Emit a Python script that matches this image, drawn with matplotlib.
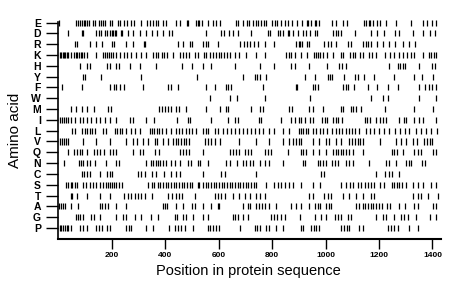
import matplotlib
matplotlib.use("Agg")
import matplotlib.pyplot as plt

plt.rcParams['font.family'] = ['Liberation Sans', 'DejaVu Sans']

# rows from top to bottom
amino_acids = ["E", "D", "R", "K", "H", "Y", "F", "W", "M", "I",
               "L", "V", "Q", "N", "C", "S", "T", "A", "G", "P"]

# positions of each residue in the sequence
pos_E = [2, 65, 73, 81, 88, 95, 99, 106, 114, 129, 136, 152, 159, 166, 174, 193, 200, 222, 230, 245,
         256, 271, 282, 309, 331, 343, 353, 364, 375, 391, 405, 439, 454, 480, 487, 514, 521, 528, 537,
         559, 578, 592, 607, 664, 674, 690, 705, 715, 727, 738, 746, 757, 768, 779, 798, 810, 820, 835,
         847, 858, 876, 892, 913, 929, 936, 944, 959, 966, 977, 1026, 1041, 1067, 1079, 1145, 1153,
         1161, 1168, 1179, 1191, 1205, 1227, 1265, 1321, 1366, 1380, 1400, 1414]
pos_D = [37, 87, 93, 142, 151, 161, 174, 182, 193, 200, 205, 211, 217, 233, 240, 261, 280, 305, 329,
         349, 369, 392, 416, 425, 554, 609, 619, 638, 654, 672, 722, 784, 793, 822, 830, 840, 859, 865,
         879, 896, 915, 928, 942, 960, 968, 1027, 1038, 1047, 1059, 1111, 1170, 1192, 1220, 1261, 1276,
         1326, 1366, 1389, 1410]
pos_R = [63, 71, 120, 142, 165, 200, 207, 252, 280, 320, 324, 448, 467, 492, 499, 542, 551, 561, 597,
         680, 694, 706, 718, 731, 747, 772, 806, 890, 900, 905, 912, 930, 940, 995, 1008, 1021, 1038,
         1083, 1096, 1139, 1150, 1158, 1170, 1192, 1214, 1237, 1261, 1289, 1311, 1336]
pos_K = [6, 11, 16, 20, 26, 34, 38, 49, 58, 65, 72, 78, 84, 90, 98, 108, 142, 168, 175, 182, 190, 198,
         205, 217, 230, 245, 259, 274, 292, 311, 329, 355, 364, 373, 387, 397, 407, 429, 457, 467, 477,
         489, 510, 522, 544, 554, 567, 579, 591, 601, 610, 621, 631, 642, 661, 676, 703, 741, 772, 853,
         863, 872, 885, 909, 930, 957, 965, 972, 980, 990, 1005, 1027, 1058, 1067, 1092, 1102, 1111,
         1129, 1139, 1162, 1175, 1187, 1223, 1241, 1257, 1274, 1289, 1303, 1319, 1332, 1366, 1386,
         1396, 1406, 1415]
pos_H = [81, 108, 118, 182, 193, 217, 228, 268, 305, 364, 464, 502, 542, 573, 660, 753, 806, 871, 884,
         940, 1005, 1050, 1062, 1077, 1237, 1270, 1279, 1289, 1298, 1349, 1398, 1410]
pos_Y = [93, 99, 161, 311, 520, 691, 735, 743, 753, 778, 922, 959, 1009, 1017, 1024, 1070, 1111, 1120,
         1145, 1183, 1257, 1332, 1361, 1401]
pos_F = [13, 90, 193, 207, 217, 230, 245, 317, 411, 420, 448, 554, 585, 626, 636, 645, 766, 888, 895,
         952, 962, 972, 1064, 1075, 1085, 1108, 1158, 1192, 1233, 1270, 1351, 1373, 1386, 1398, 1413]
pos_W = [566, 643, 668, 772, 942, 1170, 1214, 1233, 1349, 1413]
pos_M = [46, 65, 88, 108, 134, 188, 198, 377, 387, 398, 410, 422, 442, 451, 477, 554, 606, 626, 636,
         722, 753, 766, 865, 875, 940, 952, 990, 1058, 1067, 1096, 1104, 1115, 1133, 1223, 1332, 1401]
pos_I = [6, 13, 20, 29, 37, 49, 61, 81, 93, 108, 124, 140, 155, 174, 193, 217, 270, 280, 329, 357, 444,
         485, 493, 573, 635, 660, 672, 750, 760, 834, 871, 884, 900, 909, 922, 942, 952, 988, 998, 1007,
         1027, 1038, 1047, 1062, 1146, 1157, 1167, 1187, 1202, 1214, 1226, 1276, 1292, 1302, 1332,
         1351, 1366, 1413]
pos_L = [53, 63, 87, 99, 108, 118, 128, 136, 168, 177, 211, 219, 230, 240, 252, 274, 286, 305, 342,
         350, 358, 368, 377, 387, 405, 422, 439, 451, 464, 477, 489, 501, 514, 542, 551, 561, 585, 596,
         616, 631, 645, 661, 676, 691, 706, 720, 736, 751, 766, 790, 806, 841, 865, 900, 909, 917, 927,
         936, 952, 964, 980, 992, 1005, 1024, 1038, 1050, 1062, 1075, 1087, 1099, 1111, 1127, 1152,
         1167, 1183, 1199, 1220, 1239, 1261, 1279, 1298, 1314, 1339, 1357, 1376, 1395, 1416]
pos_V = [6, 13, 20, 29, 37, 93, 142, 193, 254, 280, 295, 317, 336, 361, 369, 392, 410, 428, 439, 449,
         459, 469, 479, 489, 548, 560, 573, 585, 606, 678, 738, 788, 840, 865, 877, 890, 902, 909, 952,
         977, 1003, 1012, 1038, 1058, 1089, 1099, 1110, 1120, 1129, 1139, 1202, 1264, 1282, 1302, 1326,
         1341, 1369, 1380, 1390, 1399]
pos_Q = [37, 58, 71, 81, 90, 108, 134, 145, 158, 170, 193, 205, 217, 280, 305, 317, 361, 377, 454, 467,
         479, 491, 542, 641, 654, 666, 678, 697, 709, 722, 772, 784, 797, 859, 909, 917, 927, 952, 977,
         1003, 1027, 1038, 1047, 1057, 1067, 1077, 1087, 1102, 1139, 1249, 1258, 1268, 1289, 1332,
         1345, 1357, 1401, 1413]
pos_N = [20, 78, 85, 93, 108, 118, 136, 177, 217, 228, 329, 346, 355, 364, 373, 382, 391, 403, 422,
         435, 454, 485, 497, 522, 532, 560, 628, 641, 668, 691, 703, 716, 729, 753, 772, 790, 840, 915,
         924, 971, 981, 992, 1003, 1024, 1034, 1045, 1077, 1089, 1102, 1164, 1228, 1238, 1264, 1302,
         1311, 1321, 1361, 1371]
pos_C = [90, 98, 106, 120, 155, 182, 193, 202, 299, 311, 323, 349, 367, 394, 422, 442, 454, 542, 609,
         622, 741, 983, 995, 1188, 1223, 1237, 1249, 1274]
pos_S = [30, 38, 46, 53, 61, 71, 93, 102, 120, 131, 140, 155, 168, 180, 188, 195, 202, 210, 217, 228,
         237, 336, 350, 358, 374, 382, 392, 403, 412, 422, 432, 442, 451, 462, 472, 482, 492, 502, 522,
         528, 542, 551, 561, 571, 581, 591, 601, 611, 621, 631, 641, 651, 661, 671, 680, 691, 701, 711,
         720, 731, 738, 778, 809, 822, 834, 847, 865, 877, 909, 952, 980, 1058, 1077, 1092, 1102, 1121,
         1133, 1146, 1158, 1170, 1183, 1202, 1220, 1249, 1257, 1266, 1276, 1286, 1302, 1326, 1345,
         1363, 1395, 1413]
pos_T = [46, 53, 69, 108, 155, 193, 245, 261, 274, 286, 299, 311, 323, 352, 410, 427, 439, 451, 464,
         510, 585, 597, 609, 622, 654, 676, 697, 716, 741, 753, 772, 940, 952, 995, 1009, 1021, 1064,
         1089, 1115, 1139, 1170, 1183, 1326, 1345, 1357, 1383, 1420]
pos_A = [3, 11, 18, 25, 46, 75, 155, 165, 175, 186, 217, 254, 392, 399, 407, 439, 467, 502, 511, 542,
         573, 597, 603, 691, 709, 718, 738, 750, 762, 775, 788, 813, 871, 890, 909, 940, 959, 971, 980,
         1003, 1012, 1022, 1115, 1127, 1139, 1149, 1159, 1169, 1179, 1188, 1199, 1211, 1229, 1241,
         1276, 1296, 1332, 1345, 1401, 1413]
pos_G = [65, 75, 83, 92, 124, 134, 155, 217, 242, 254, 286, 311, 346, 374, 435, 444, 467, 477, 504,
         542, 560, 654, 663, 673, 691, 709, 797, 807, 817, 834, 847, 906, 959, 983, 1003, 1034, 1046,
         1058, 1083, 1096, 1188, 1214, 1226, 1257, 1281, 1294, 1307, 1339, 1389, 1413]
pos_P = [6, 12, 18, 25, 31, 37, 46, 81, 93, 108, 142, 153, 163, 182, 193, 252, 263, 272, 329, 355,
         415, 435, 448, 461, 473, 504, 560, 569, 579, 590, 600, 680, 735, 745, 755, 778, 788, 815, 840,
         909, 917, 946, 956, 966, 977, 1058, 1069, 1079, 1088, 1127, 1139, 1233, 1245, 1257, 1270,
         1314, 1345]

positions = [pos_E, pos_D, pos_R, pos_K, pos_H, pos_Y, pos_F, pos_W, pos_M, pos_I,
             pos_L, pos_V, pos_Q, pos_N, pos_C, pos_S, pos_T, pos_A, pos_G, pos_P]

x_ticks = [200, 400, 600, 800, 1000, 1200, 1400]
seq_length = 1432

fig = plt.figure(figsize=(4.6, 2.99), dpi=100)
ax = fig.add_axes([58.25 / 460, 60.5 / 299, 382.75 / 460, 216.5 / 299])

n = len(amino_acids)
for i, pos in enumerate(positions):
    y = n - 1 - i
    ax.vlines(pos, y - 0.28, y + 0.28, color="black", linewidth=0.9, clip_on=False)

ax.set_xlim(0, seq_length)
ax.set_ylim(-0.97, n - 1 + 0.05)

ax.set_yticks(range(n))
ax.set_yticklabels(amino_acids[::-1], fontsize=7.5, fontweight="bold")
ax.set_xticks(x_ticks)
ax.set_xticklabels([str(t) for t in x_ticks], fontsize=6, fontweight="bold")

ax.tick_params(axis="y", length=8.5, width=1.0, pad=4)
ax.tick_params(axis="x", length=7, width=1.0, pad=2.5)

for side in ["top", "right"]:
    ax.spines[side].set_visible(False)
ax.spines["left"].set_linewidth(1.2)
ax.spines["bottom"].set_linewidth(1.5)

fig.text(248.5 / 460, 1 - 271 / 299, "Position in protein sequence",
         ha="center", va="center", fontsize=10.5)
fig.text(15 / 460, 1 - 130 / 299, "Amino acid", rotation=90,
         ha="center", va="center", fontsize=11)

fig.savefig("out.png", dpi=100)
